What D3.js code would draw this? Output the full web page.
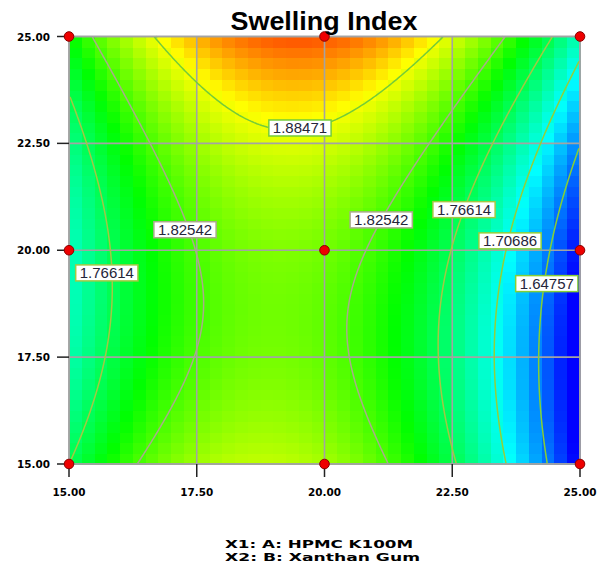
<!DOCTYPE html>
<html><head><meta charset="utf-8">
<script src="https://cdn.jsdelivr.net/npm/d3@7"></script>
<style>body{margin:0;background:#fff}</style>
</head><body>
<svg id="chart" width="605" height="573"></svg>
<script>
// Factor axes (actual units)
const axisTicks = [15.00, 17.50, 20.00, 22.50, 25.00];
const tickLabels = ["15.00", "17.50", "20.00", "22.50", "25.00"];
const factorLabels = ["X1: A: HPMC K100M", "X2: B: Xanthan Gum"];

// Fitted quadratic model, coded units: Intercept, A, B, AB, A^2, B^2
const modelTerms = ["Intercept", "A", "B", "AB", "A^2", "B^2"];
const modelCoefs = [1.840, -0.061, 0.041, 0.025, -0.178, 0.059];

// Contour levels drawn on the plot
const contourLevels = [1.64757, 1.70686, 1.76614, 1.82542, 1.88471];

// Contour labels and where they sit (factor units)
const labelValues = [1.88471, 1.82542, 1.76614, 1.82542, 1.76614, 1.70686, 1.64757];
const labelA = [19.52, 17.27, 15.74, 21.11, 22.73, 23.63, 24.35];
const labelB = [22.86, 20.48, 19.47, 20.71, 20.95, 20.22, 19.22];

// Design points
const designA = [15, 20, 25, 15, 20, 25, 15, 20, 25];
const designB = [15, 15, 15, 20, 20, 20, 25, 25, 25];

const svg = d3.select("#chart");
const W = 605, H = 573;
svg.append("rect").attr("width", W).attr("height", H).attr("fill", "#fff");

const pL = 69, pR = 580, pT = 36.5, pB = 464;
const x = d3.scaleLinear().domain([15, 25]).range([pL, pR]);
const y = d3.scaleLinear().domain([15, 25]).range([pB, pT]);

function predict(A, B) {
  const a = (A - 20) / 5, b = (B - 20) / 5;
  const c = modelCoefs;
  return c[0] + c[1] * a + c[2] * b + c[3] * a * b + c[4] * a * a + c[5] * b * b;
}

const color = d3.scaleLinear()
  .domain([1.60, 1.70, 1.80, 1.89, 1.965])
  .range(["#0000ff", "#00ffff", "#00ff00", "#ffff00", "#ff0000"])
  .clamp(true);

// Coloured cell field
const N = 40, step = 10 / N;
const cells = [];
for (let j = 0; j < N; j++) for (let i = 0; i < N; i++) {
  cells.push({ i, j, v: predict(15 + (i + 0.5) * step, 15 + (j + 0.5) * step) });
}
const field = svg.append("g").attr("shape-rendering", "crispEdges");
field.selectAll("rect").data(cells).join("rect")
  .attr("x", d => x(15 + d.i * step))
  .attr("y", d => y(15 + (d.j + 1) * step))
  .attr("width", d => x(15 + (d.i + 1) * step) - x(15 + d.i * step) + 0.6)
  .attr("height", d => y(15 + d.j * step) - y(15 + (d.j + 1) * step) + 0.6)
  .attr("fill", d => color(d.v));

// Grid lines
const grid = svg.append("g").attr("stroke", "#a3a3a3").attr("stroke-width", 1.6);
axisTicks.forEach(t => {
  grid.append("line").attr("x1", x(t)).attr("x2", x(t)).attr("y1", pT).attr("y2", pB);
  grid.append("line").attr("x1", pL).attr("x2", pR).attr("y1", y(t)).attr("y2", y(t));
});

// Contour lines
const M = 200;
const values = new Array(M * M);
for (let r = 0; r < M; r++) for (let c = 0; c < M; c++) {
  values[r * M + c] = predict(15 + (c + 0.5) * 10 / M, 15 + (r + 0.5) * 10 / M);
}
const contours = d3.contours().size([M, M]).thresholds(contourLevels)(values);

function ringToLines(ring) {
  const n = ring.length - 1;
  const pts = ring.slice(0, n);
  const isB = (p, q) => (p[0] === q[0] && (p[0] === 0 || p[0] === M)) ||
                        (p[1] === q[1] && (p[1] === 0 || p[1] === M));
  let start = -1;
  for (let i = 0; i < n; i++) if (isB(pts[i], pts[(i + 1) % n])) { start = i; break; }
  if (start < 0) return [ring];
  const lines = []; let cur = null;
  for (let k = 1; k <= n; k++) {
    const i = (start + k) % n, j = (i + 1) % n;
    if (isB(pts[i], pts[j])) { if (cur && cur.length > 1) lines.push(cur); cur = null; }
    else { if (!cur) cur = [pts[i]]; cur.push(pts[j]); }
  }
  if (cur && cur.length > 1) lines.push(cur);
  return lines;
}

const levelStroke = {
  1.64757: "#86cf34", 1.70686: "#93cf3a", 1.76614: "#a3c843",
  1.82542: "#a9ab8a", 1.88471: "#74cc38"
};
const lineGen = d3.line()
  .x(p => x(15 + p[0] * 10 / M))
  .y(p => y(15 + p[1] * 10 / M));
const cg = svg.append("g").attr("fill", "none").attr("stroke-width", 1.5);
contours.forEach(cn => {
  cn.coordinates.forEach(poly => poly.forEach(ring => {
    ringToLines(ring).forEach(l => {
      cg.append("path").attr("d", lineGen(l)).attr("stroke", levelStroke[cn.value]);
    });
  }));
});

// Plot border
svg.append("rect").attr("x", pL).attr("y", pT)
  .attr("width", pR - pL).attr("height", pB - pT)
  .attr("fill", "none").attr("stroke", "#a3a3a3").attr("stroke-width", 1.6);

// Contour labels
const lg = svg.append("g");
labelValues.forEach((v, k) => {
  const cx = x(labelA[k]), cy = y(labelB[k]);
  const g = lg.append("g");
  const t = g.append("text").attr("x", cx).attr("y", cy + 5.5)
    .attr("text-anchor", "middle")
    .attr("font-family", "Liberation Sans, Arial, sans-serif")
    .attr("font-size", 15).attr("fill", "#25253a")
    .text(v.toFixed(5));
  const w = t.node().getComputedTextLength();
  g.insert("rect", "text")
    .attr("x", cx - w / 2 - 4).attr("y", cy - 8)
    .attr("width", w + 8).attr("height", 16)
    .attr("fill", "#fff").attr("stroke", levelStroke[v]).attr("stroke-width", 1.5);
});

// Axis ticks
const ticks = svg.append("g").attr("stroke", "#222").attr("stroke-width", 1.5);
axisTicks.forEach(t => {
  ticks.append("line").attr("x1", pL - 12).attr("x2", pL).attr("y1", y(t)).attr("y2", y(t));
  ticks.append("line").attr("x1", x(t)).attr("x2", x(t)).attr("y1", pB).attr("y2", pB + 13);
});
const tl = svg.append("g")
  .attr("font-family", "DejaVu Sans, sans-serif").attr("font-weight", "bold")
  .attr("font-size", 10.5).attr("fill", "#000");
axisTicks.forEach((t, k) => {
  tl.append("text").attr("x", 50).attr("y", y(t) + 4).attr("text-anchor", "end")
    .attr("textLength", 33).attr("lengthAdjust", "spacingAndGlyphs").text(tickLabels[k]);
  tl.append("text").attr("x", x(t)).attr("y", 496).attr("text-anchor", "middle")
    .attr("textLength", 33).attr("lengthAdjust", "spacingAndGlyphs").text(tickLabels[k]);
});

// Design points
svg.append("g").selectAll("circle").data(designA).join("circle")
  .attr("cx", (d, k) => x(designA[k])).attr("cy", (d, k) => y(designB[k]))
  .attr("r", 4.8).attr("fill", "#ee0000").attr("stroke", "#8a0000").attr("stroke-width", 1);

// Title
svg.append("text").attr("x", 324).attr("y", 30).attr("text-anchor", "middle")
  .attr("font-family", "Liberation Sans, Arial, sans-serif").attr("font-weight", "bold")
  .attr("font-size", 26).attr("textLength", 187).attr("lengthAdjust", "spacingAndGlyphs")
  .attr("fill", "#000").text("Swelling Index");

// Factor labels
const fl = svg.append("g").attr("font-family", "DejaVu Sans, sans-serif")
  .attr("font-weight", "bold").attr("font-size", 11).attr("fill", "#000");
fl.append("text").attr("x", 225).attr("y", 547.5)
  .attr("textLength", 188).attr("lengthAdjust", "spacingAndGlyphs").text(factorLabels[0]);
fl.append("text").attr("x", 225).attr("y", 561)
  .attr("textLength", 195).attr("lengthAdjust", "spacingAndGlyphs").text(factorLabels[1]);
</script>
</body></html>
